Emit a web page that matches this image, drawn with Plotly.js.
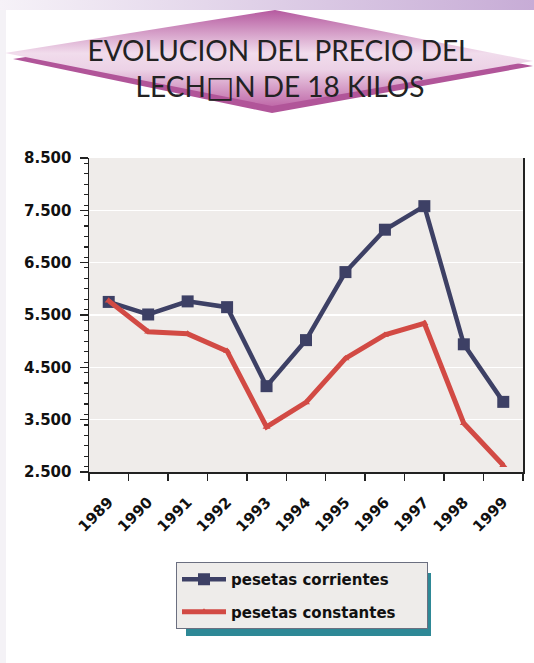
<!DOCTYPE html>
<html>
<head>
<meta charset="utf-8">
<script src="https://cdn.plot.ly/plotly-3.0.1.min.js"></script>
<style>
  html, body { margin: 0; padding: 0; background: #ffffff; }
  #wrap { position: relative; width: 534px; height: 663px; overflow: hidden; }
  #bg { position: absolute; left: 0; top: 0; z-index: 0; }
  #chart { position: absolute; left: 0; top: 0; width: 534px; height: 663px; z-index: 1; }
</style>
</head>
<body>
<div id="wrap">
  <svg id="bg" width="534" height="663" xmlns="http://www.w3.org/2000/svg">
    <defs>
      <linearGradient id="topband" x1="0" y1="0" x2="1" y2="0">
        <stop offset="0" stop-color="#f6f2f8"/>
        <stop offset="1" stop-color="#c7acd6"/>
      </linearGradient>
      <linearGradient id="diam" x1="0" y1="0" x2="0" y2="1">
        <stop offset="0" stop-color="#b5599f"/>
        <stop offset="0.45" stop-color="#f1dcec"/>
        <stop offset="0.62" stop-color="#ecd2e6"/>
        <stop offset="1" stop-color="#c06aa9"/>
      </linearGradient>
    </defs>
    <rect x="0" y="0" width="534" height="10" fill="url(#topband)"/>
    <rect x="0" y="10" width="6" height="653" fill="#f4f2f6"/>
    <polygon points="13,59 275,18 533,66 272,113" fill="#b15599"/>
    <polygon points="5,53 275,10 533,61 272,106" fill="url(#diam)"/>
  </svg>
  <div id="chart"></div>
</div>
<script>
// ---- data ----
var years = ["1989","1990","1991","1992","1993","1994","1995","1996","1997","1998","1999"];
var corrientes = [5750, 5510, 5760, 5650, 4140, 5020, 6320, 7130, 7580, 4940, 3840];
var constantes = [5770, 5180, 5140, 4810, 3360, 3830, 4670, 5120, 5340, 3430, 2630];
var seriesNames = ["pesetas corrientes", "pesetas constantes"];
var titleText = "EVOLUCION DEL PRECIO DEL<br>LECH<span style=\"font-family:'DejaVu Sans';font-size:30px\">\u25A1</span>N DE 18 KILOS";

var W = 534, H = 663;
var L = 89, R = 11, T = 158, B = 191;
function px2x(px) { return (px - L) / (W - L - R); }
function px2y(py) { return (H - B - py) / (H - T - B); }

var tickFont = { family: "DejaVu Sans", size: 15, color: "#111111", weight: 700 };
var pad = "\u00a0\u00a0\u00a0\u00a0\u00a0";

var traces = [
  {
    x: years, y: corrientes, name: seriesNames[0] + pad,
    type: "scatter", mode: "lines+markers",
    line: { color: "#3d4065", width: 4.5 },
    marker: { symbol: "square", size: 12, color: "#3d4065" },
    legendgroup: "a"
  },
  {
    x: years, y: constantes, name: seriesNames[1] + pad,
    type: "scatter", mode: "lines+markers",
    line: { color: "#d24a44", width: 5 },
    marker: { symbol: "triangle-up", size: 7, color: "#d24a44" },
    legendgroup: "b"
  }
];

var layout = {
  width: W, height: H,
  margin: { l: L, r: R, t: T, b: B },
  paper_bgcolor: "rgba(0,0,0,0)",
  plot_bgcolor: "#efecea",
  separators: ",.",
  font: { family: "DejaVu Sans", color: "#111111" },
  title: {
    text: titleText,
    font: { family: "Lato", size: 28, color: "#222222" },
    x: 280 / W, xref: "container", xanchor: "center",
    y: 1 - 61 / H, yref: "container", yanchor: "middle"
  },
  xaxis: {
    type: "category",
    range: [-0.5, 10.5],
    showline: true, linecolor: "#222222", linewidth: 1.5,
    ticks: "outside", tickson: "boundaries", ticklen: 7, tickcolor: "#222222", tickwidth: 1.5,
    tickangle: -45, tickfont: tickFont,
    ticklabelstandoff: 14,
    showgrid: false, zeroline: false, fixedrange: true
  },
  yaxis: {
    range: [2500, 8500],
    tick0: 2500, dtick: 1000, tickformat: ",d",
    showline: true, mirror: true, linecolor: "#222222", linewidth: 1.5,
    ticks: "outside", ticklen: 8, tickcolor: "#222222", tickwidth: 1.5,
    tickfont: tickFont, ticklabelstandoff: 5,
    showgrid: true, gridcolor: "#ffffff", gridwidth: 1.5,
    zeroline: false, fixedrange: true,
    minor: { dtick: 200, ticks: "outside", ticklen: 4, tickcolor: "#222222", tickwidth: 1.2, showgrid: false }
  },
  showlegend: true,
  legend: {
    x: px2x(176), y: px2y(562), xanchor: "left", yanchor: "top",
    bgcolor: "#eeecea", bordercolor: "#6b6f80", borderwidth: 1,
    font: { family: "DejaVu Sans", size: 15, color: "#111111", weight: 700 },
    traceorder: "grouped", tracegroupgap: 10, itemwidth: 44
  },
  shapes: [
    {
      type: "rect", xref: "paper", yref: "paper", layer: "below",
      x0: px2x(186), x1: px2x(431), y0: px2y(636), y1: px2y(573),
      fillcolor: "#2e8896", line: { width: 0 }
    }
  ]
};

Plotly.newPlot("chart", traces, layout, { displayModeBar: false, staticPlot: true });
</script>
</body>
</html>
